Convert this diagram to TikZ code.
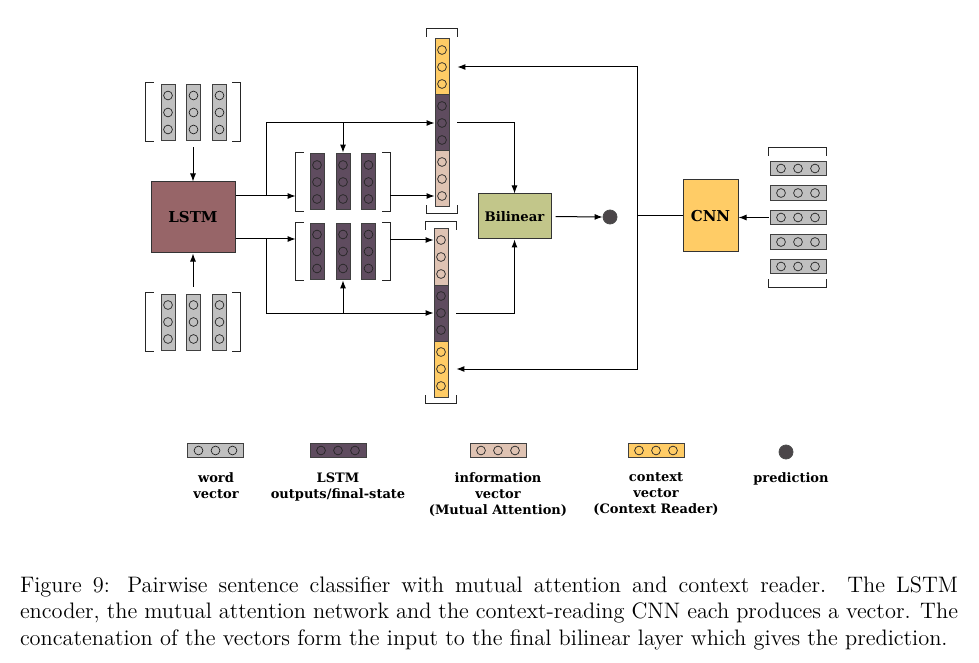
\documentclass[tikz,border=0pt]{standalone}
\usepackage{fontspec}
\newfontfamily\labfont{DejaVu Serif}
\usetikzlibrary{arrows.meta}

\definecolor{wordgray}{HTML}{C0C0C0}
\definecolor{lstmout}{HTML}{5F4C5F}
\definecolor{infopink}{HTML}{DFC3B3}
\definecolor{ctxyellow}{HTML}{FFCC66}
\definecolor{lstmbox}{HTML}{976568}
\definecolor{bilbox}{HTML}{C2C68A}
\definecolor{predgray}{HTML}{4B4649}

\tikzset{
  cell/.style={draw=black!75, line width=0.5pt, inner sep=0pt},
  dot/.style={circle, draw=black!85, line width=0.35pt, inner sep=0pt, minimum size=4.4pt},
  box/.style={draw=black!80, line width=0.5pt, inner sep=0pt, font=\labfont\bfseries\fontsize{7.5}{9}\selectfont},
  grp/.style={inner sep=0pt},
  brk/.style={line width=0.7pt, draw=black!85},
  conn/.style={line width=0.5pt, -{Latex[length=4pt,width=3pt]}},
  predot/.style={circle, fill=predgray, draw=black!70, line width=0.4pt, minimum size=7pt, inner sep=0pt},
  leg/.style={font=\labfont\bfseries\fontsize{6.5}{8}\selectfont, align=center, anchor=north, inner sep=0pt},
}

% vertical / horizontal vector of three units
\newcommand{\vvec}[4]{%
  \node[cell, fill=#4, minimum width=7pt, minimum height=28pt] (#1) at (#2,#3) {};
  \foreach \k/\dy in {1/-17,2/0,3/17}
    \node[dot] (#1-\k) at (#2,#3+\dy) {};
}
\newcommand{\hvec}[4]{%
  \node[cell, fill=#4, minimum width=28pt, minimum height=7.25pt] (#1) at (#2,#3) {};
  \foreach \k/\dx in {1/-17,2/0,3/17}
    \node[dot] (#1-\k) at (#2+\dx,#3) {};
}
% brackets round a group node
\newcommand{\sidebrk}[1]{%
  \draw[brk] ([xshift=4pt]#1.north west) -- (#1.north west) -- (#1.south west) -- ([xshift=4pt]#1.south west);
  \draw[brk] ([xshift=-4pt]#1.north east) -- (#1.north east) -- (#1.south east) -- ([xshift=-4pt]#1.south east);
}
\newcommand{\capbrk}[1]{%
  \draw[brk] ([yshift=-4pt]#1.north west) -- (#1.north west) -- (#1.north east) -- ([yshift=-4pt]#1.north east);
  \draw[brk] ([yshift=4pt]#1.south west) -- (#1.south west) -- (#1.south east) -- ([yshift=4pt]#1.south east);
}

\begin{document}
\begin{tikzpicture}[x=0.5pt, y=-0.5pt]
    \useasboundingbox (0,0) rectangle (979,663);

    % word vectors of the two sentences
    \foreach \i/\x in {1/168,2/193.5,3/219.5} {
        \vvec{wA\i}{\x}{112.5}{wordgray}
        \vvec{wB\i}{\x}{322}{wordgray}
    }
    \node[grp, minimum width=47pt, minimum height=29pt] (wA) at (193,112) {};
    \node[grp, minimum width=47pt, minimum height=29pt] (wB) at (193,322) {};
    \sidebrk{wA}
    \sidebrk{wB}

    \node[box, fill=lstmbox, minimum width=42pt, minimum height=35.5pt] (lstm) at (193,217.5) {LSTM};

    % LSTM outputs
    \foreach \i/\x in {1/317,2/343,3/368.5} {
        \vvec{oA\i}{\x}{182}{lstmout}
        \vvec{oB\i}{\x}{251.5}{lstmout}
    }
    \node[grp, minimum width=47pt, minimum height=29pt] (outA) at (343,182) {};
    \node[grp, minimum width=47pt, minimum height=28.5pt] (outB) at (343,251.5) {};
    \sidebrk{outA}
    \sidebrk{outB}

    % concatenated vectors
    \vvec{catA1}{442}{67}{ctxyellow}
    \vvec{catA2}{442}{123}{lstmout}
    \vvec{catA3}{442}{179}{infopink}
    \vvec{catB1}{441}{257}{infopink}
    \vvec{catB2}{441}{313}{lstmout}
    \vvec{catB3}{441}{369}{ctxyellow}
    \node[grp, minimum width=15pt, minimum height=92pt] (catA) at (442,121) {};
    \node[grp, minimum width=15pt, minimum height=90.5pt] (catB) at (441,312.5) {};
    \capbrk{catA}
    \capbrk{catB}

    \node[box, fill=bilbox, minimum width=36.5pt, minimum height=22.5pt,
          font=\labfont\bfseries\fontsize{6.6}{8}\selectfont] (bil) at (514.5,216.5) {Bilinear};
    \node[predot] (pred) at (610,217) {};
    \node[box, fill=ctxyellow, minimum width=27.5pt, minimum height=36pt] (cnn) at (710.5,216) {CNN};

    % context sentences
    \foreach \i in {1,...,5} {
        \hvec{s\i}{798}{144+24.5*\i}{wordgray}
    }
    \node[grp, minimum width=28.5pt, minimum height=69.5pt] (sent) at (797.5,217.5) {};
    \capbrk{sent}

    % connectors
    \coordinate (tA) at (266,196);
    \coordinate (tB) at (266,239);
    \coordinate (jc) at (637,216);

    \draw[conn, shorten <=3pt] (wA.south) -- (lstm.north);
    \draw[conn, shorten <=3pt] (wB.north) -- (lstm.south);
    \draw[conn] (lstm.east |- tA) -- (outA.west |- tA);
    \draw[conn] (lstm.east |- tB) -- (outB.west |- tB);
    \draw[conn] (tA) |- (catA2-2 -| catA2.west);
    \draw[conn] (tB) |- (catB2-2 -| catB2.west);
    \draw[conn] (outA.north |- catA2-2) -- (outA.north);
    \draw[conn] (outB.south |- catB2-2) -- (outB.south);
    \draw[conn] (outA.east |- catA3-3) -- (catA3-3 -| catA3.west);
    \draw[conn] (outB.east |- catB1-1) -- (catB1-1 -| catB1.west);
    \draw[conn] (catA.east |- catA2-2) -| (bil.north);
    \draw[conn] (catB.east |- catB2-2) -| (bil.south);
    \draw[conn, shorten <=2pt] (bil.east) -- (pred.west);
    \draw[line width=0.5pt] (cnn.west) -- (jc);
    \draw[conn] (jc) |- (catA.east |- catA1-2);
    \draw[conn] (jc) |- (catB.east |- catB3-2);
    \draw[conn] (sent.west) -- (sent.west -| cnn.east);

    % legend
    \hvec{lgw}{215.5}{450.5}{wordgray}
    \hvec{lgl}{338}{450.5}{lstmout}
    \hvec{lgi}{498}{450.5}{infopink}
    \hvec{lgc}{656}{450.5}{ctxyellow}
    \node[predot] (lgp) at (786,452) {};
    \node[leg] (tw) at (216,472) {word\\vector};
    \node[leg] (tl) at (338,472) {LSTM\\outputs/final-state};
    \node[leg] (ti) at (498,472) {information\\vector\\(Mutual Attention)};
    \node[leg] (tc) at (656,472) {context\\vector\\(Context Reader)};
    \node[leg] (tp) at (791,472) {prediction};

    % caption
    \node[text width=469pt, align=justify, inner sep=0pt, font=\fontsize{11.2}{13.25}\selectfont] (cap) at (489,613)
        {Figure 9: Pairwise sentence classifier with mutual attention and context reader.  The LSTM\linebreak
         encoder, the mutual attention network and the context-reading CNN each produces a vector. The\linebreak
         concatenation of the vectors form the input to the final bilinear layer which gives the prediction.};
\end{tikzpicture}
\end{document}
